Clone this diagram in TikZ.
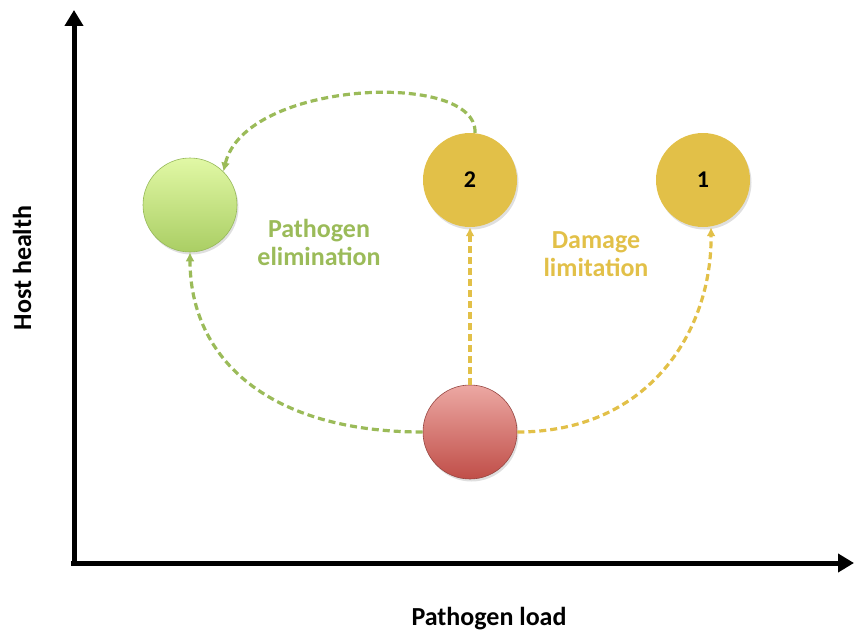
\documentclass[tikz,border=0pt]{standalone}
\usepackage{fontspec}
\setmainfont{Carlito}
\usetikzlibrary{arrows.meta,shadows}
\definecolor{pgreen}{RGB}{155,187,89}
\definecolor{pyellow}{RGB}{226,192,72}
\definecolor{gtop}{RGB}{225,248,165}
\definecolor{gbot}{RGB}{170,206,100}
\definecolor{rtop}{RGB}{236,168,163}
\definecolor{rbot}{RGB}{192,78,72}
\definecolor{rborder}{RGB}{150,70,65}
\definecolor{gborder}{RGB}{150,185,90}
\begin{document}
\begin{tikzpicture}[x=1pt,y=-1pt,
  axis/.style={line width=5pt,-{Triangle[width=18pt,length=16pt]}},
  ball/.style={circle,minimum size=94pt,inner sep=0pt,font=\fontsize{24}{28}\selectfont\bfseries,
    drop shadow={opacity=0.25,shadow xshift=1.5pt,shadow yshift=-2.5pt}},
  gconn/.style={draw=pgreen,line width=3.2pt,dash pattern=on 7pt off 4pt,-{Latex[length=9pt,width=9pt]}},
  yconn/.style={draw=pyellow,line width=3.2pt,dash pattern=on 7pt off 4pt,-{Latex[length=9pt,width=9pt]}},
  lbl/.style={font=\fontsize{26}{28}\selectfont\bfseries,align=center}]
\useasboundingbox (0,0) rectangle (855,634);
\coordinate (ytop) at (74,10);
\coordinate (xend) at (854,563);
\draw[axis] (74,566) -- (ytop);
\draw[axis] (71,563) -- (xend);
\node[lbl,rotate=90] (yl) at (22,268) {Host health};
\node[lbl] (xl) at (489,619) {Pathogen load};

\node[ball,draw=gborder,line width=0.6pt,top color=gtop,bottom color=gbot] (g) at (190,205) {};
\node[ball,fill=pyellow] (c2) at (470,180) {2};
\node[ball,fill=pyellow] (c1) at (703,180) {1};
\node[ball,draw=rborder,line width=0.6pt,top color=rtop,bottom color=rbot] (r) at (470,432) {};

\node[lbl,text=pgreen] (pe) at (319,242) {Pathogen\\elimination};
\node[lbl,text=pyellow] (dl) at (596,254) {Damage\\limitation};

\draw[gconn] (r.west) .. controls (270,432) and (190,360) .. (g.south);
\draw[yconn] (r.east) .. controls (650,432) and (712,330) .. ([xshift=8pt]c1.south);
\draw[yconn] (r.north) -- (c2.south);
\draw[gconn] ([xshift=5pt]c2.north) .. controls (478,70) and (245,80) .. (g.north east);
\end{tikzpicture}
\end{document}
